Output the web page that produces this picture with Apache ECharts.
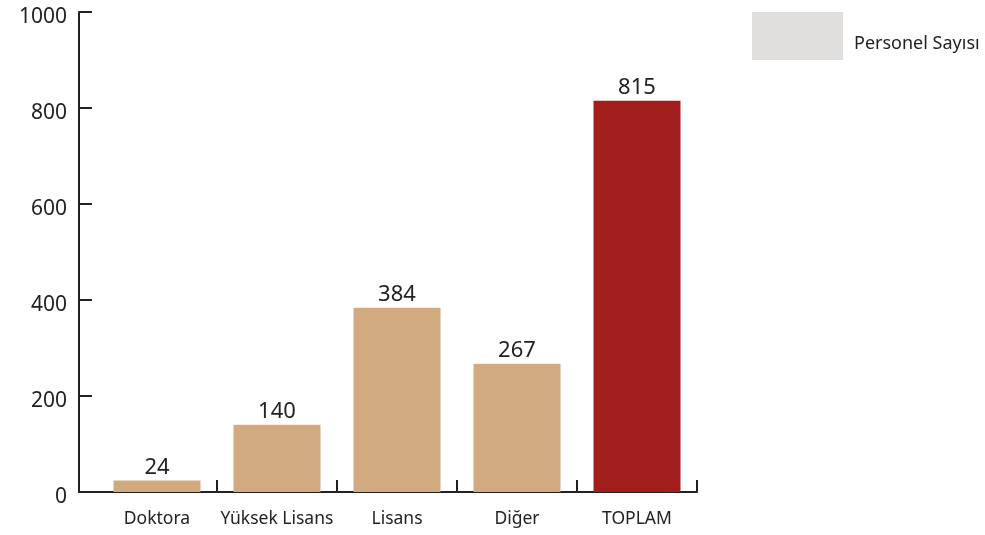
<!DOCTYPE html>
<html><head><meta charset="utf-8">
<script src="https://cdn.jsdelivr.net/npm/echarts@6/dist/echarts.min.js"></script>
<style>html,body{margin:0;padding:0;background:#fff}#c{width:985px;height:535px}</style>
</head><body><div id="c"></div>
<script>
const categories = ['Doktora', 'Yüksek Lisans', 'Lisans', 'Diğer', 'TOPLAM'];
const values = [24, 140, 384, 267, 815];
const seriesName = 'Personel Sayısı';
const yTicks = [0, 200, 400, 600, 800, 1000];

const tan = '#d2aa7f';
const red = '#a11e1d';
const axisCol = '#222';
const font = '"Noto Sans", "Open Sans", sans-serif';

const chart = echarts.init(document.getElementById('c'));
chart.setOption({
  animation: false,
  color: ['#e0dfdd'],
  legend: {
    data: [{name: seriesName, itemStyle: {color: '#e0dfdd'}}],
    left: 752, top: 12, padding: 0,
    itemWidth: 91, itemHeight: 48, itemGap: 0,
    icon: 'rect',
    formatter: '{a|{name}}',
    textStyle: {fontFamily: font, fontSize: 18, color: '#222',
      rich: {a: {fontFamily: font, fontSize: 18, color: '#222', padding: [16, 0, 0, 6]}}}
  },
  grid: [
    {left: 97, right: 288, top: 12, bottom: 43},
    {left: 79, right: 288, top: 12, bottom: 43}
  ],
  xAxis: [
    {type: 'category', gridIndex: 0, data: categories,
     axisLine: {show: false},
     axisTick: {show: true, inside: true, length: 12, lineStyle: {color: axisCol, width: 2},
       interval: function (i) { return i !== 0; }},
     axisLabel: {interval: 0, fontFamily: font, fontSize: 17.5, color: '#222', margin: 18}},
    {type: 'value', gridIndex: 1, min: 0, max: 1,
     axisLine: {show: true, lineStyle: {color: axisCol, width: 2}},
     axisTick: {show: false}, axisLabel: {show: false}, splitLine: {show: false}}
  ],
  yAxis: [
    {type: 'value', gridIndex: 0, min: 0, max: 1000, interval: 200, show: false, splitLine: {show: false}},
    {type: 'value', gridIndex: 1, min: yTicks[0], max: yTicks[yTicks.length - 1], interval: 200,
     axisLine: {show: true, lineStyle: {color: axisCol, width: 2}},
     axisTick: {show: true, inside: true, length: 13, lineStyle: {color: axisCol, width: 2}},
     axisLabel: {fontFamily: font, fontSize: 21, color: '#222', margin: 12,
       formatter: function (v) { return '{a|' + v + '}'; },
       rich: {a: {fontFamily: font, fontSize: 21, color: '#222', padding: [10, 0, 0, 0]}}},
     splitLine: {show: false}}
  ],
  series: [{
    name: seriesName, type: 'bar', xAxisIndex: 0, yAxisIndex: 0,
    barWidth: 87,
    data: values.map((v, i) => ({value: v, itemStyle: {color: i === values.length - 1 ? red : tan}})),
    label: {show: true, position: 'top', distance: 2, fontFamily: font, fontSize: 22, color: '#222'}
  }]
});
</script></body></html>
